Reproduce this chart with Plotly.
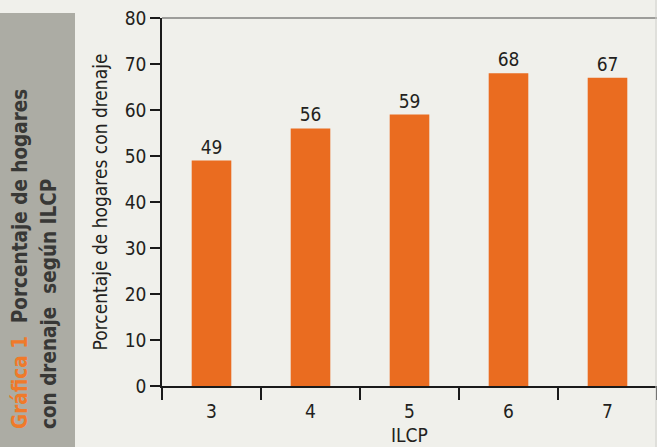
import plotly.graph_objects as go

categories = ["3", "4", "5", "6", "7"]
values = [49, 56, 59, 68, 67]
y_ticks = [0, 10, 20, 30, 40, 50, 60, 70, 80]

FONT = "DejaVu Sans Condensed"
BG = "#f0f0eb"
ORANGE = "#ea6c20"
TXT = "#231f20"

W, H = 657, 447
L, R, T, B = 162, 0, 18, 61
pw, ph = W - L - R, H - T - B

def px(x):
    return (x - L) / pw

def py(y):
    return (H - B - y) / ph

fig = go.Figure(go.Bar(
    x=categories, y=values,
    marker=dict(color=ORANGE, line=dict(width=0)),
    text=[str(v) for v in values], textposition="outside",
    textfont=dict(family=FONT, size=19, color=TXT),
    cliponaxis=False, width=0.4,
))

fig.update_layout(
    width=W, height=H, margin=dict(l=L, r=R, t=T, b=B, autoexpand=False),
    paper_bgcolor=BG, plot_bgcolor=BG, showlegend=False,
    font=dict(family=FONT, color=TXT),
    bargap=0.6,
)
fig.update_xaxes(
    type="category", showline=True, linecolor="#1a1a1a", linewidth=1.5,
    ticks="outside", tickson="boundaries", ticklen=12, tickcolor="#1a1a1a", tickwidth=1.5,
    tickfont=dict(family=FONT, size=19, color=TXT), ticklabelstandoff=7,
    showgrid=False, zeroline=False, automargin=False,
)
fig.update_yaxes(
    range=[0, 80], tickvals=y_ticks, showline=True, linecolor="#1a1a1a", linewidth=1.5,
    ticks="outside", ticklen=10, tickcolor="#1a1a1a", tickwidth=1.5,
    tickfont=dict(family=FONT, size=19, color=TXT),
    title=dict(text="Porcentaje de hogares con drenaje", font=dict(family=FONT, size=19, color=TXT), standoff=12),
    showgrid=False, zeroline=False, automargin=False,
)

# x-axis title as annotation, kept fully inside the page
fig.add_annotation(
    xref="paper", yref="paper", x=0.5, y=py(447), xanchor="center", yanchor="bottom",
    showarrow=False, text="ILCP", font=dict(family=FONT, size=19, color=TXT),
    borderpad=0,
)

# top border line and faint right edge
fig.add_shape(type="line", xref="paper", yref="paper", x0=0, x1=1, y0=1, y1=1,
              line=dict(color="#4a4a4a", width=1.2))
fig.add_shape(type="line", xref="paper", yref="paper", x0=px(656), x1=px(656), y0=py(0), y1=py(447),
              line=dict(color="#cfcfcb", width=1))

# left grey panel
fig.add_shape(type="rect", xref="paper", yref="paper", x0=px(0), x1=px(75), y0=py(447), y1=py(13),
              fillcolor="#acaca4", line=dict(width=0), layer="below")

fig.add_annotation(
    xref="paper", yref="paper", x=px(20), y=py(431), xanchor="center", yanchor="bottom",
    textangle=-90, showarrow=False,
    text="<b><span style='color:#f07a2a'>Gráfica 1</span>  Porcentaje de hogares</b>",
    font=dict(family=FONT, size=20.5, color="#383836"),
)
fig.add_annotation(
    xref="paper", yref="paper", x=px(49), y=py(431), xanchor="center", yanchor="bottom",
    textangle=-90, showarrow=False,
    text="<b>con drenaje  según ILCP</b>",
    font=dict(family=FONT, size=20.5, color="#383836"),
)

fig.write_html("out.html")
